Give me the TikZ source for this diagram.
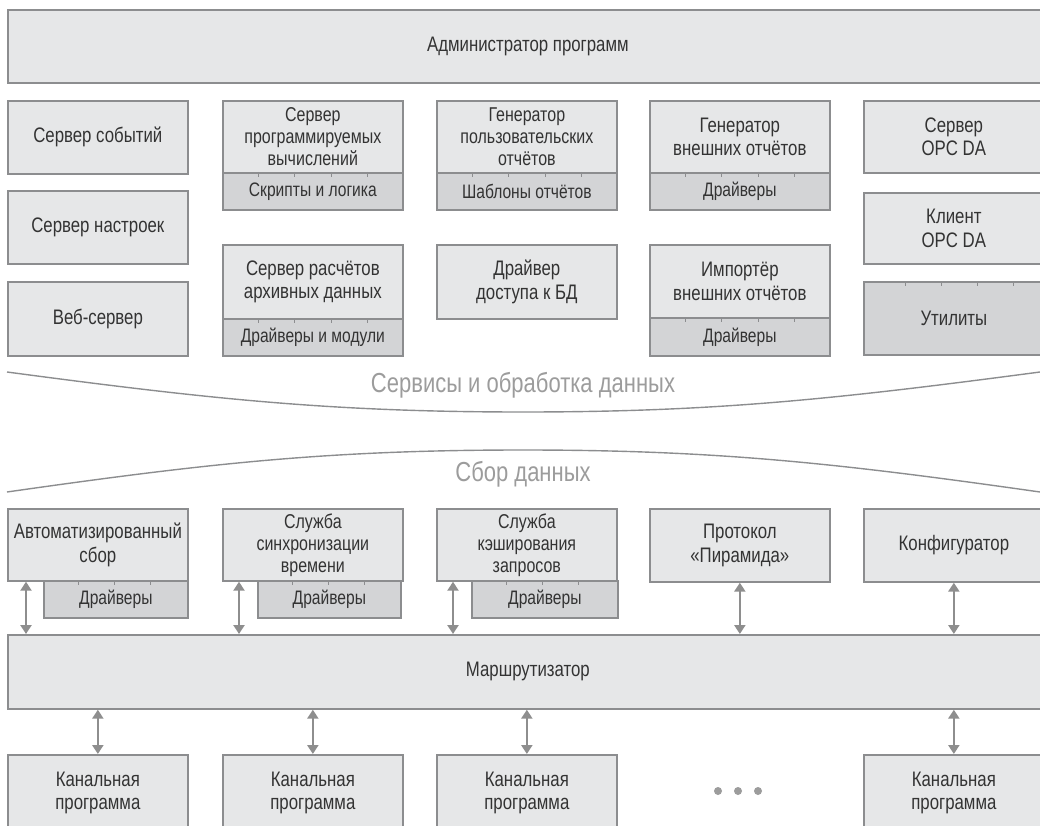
\documentclass[tikz,border=0pt]{standalone}
\usepackage{fontspec}
\setmainfont{Liberation Sans}[FakeStretch=0.8]
\usetikzlibrary{arrows.meta,calc}

\definecolor{boxfill}{HTML}{E6E7E8}
\definecolor{subfill}{HTML}{D3D4D6}
\definecolor{bord}{HTML}{8C8D8F}
\definecolor{txt}{HTML}{333333}
\definecolor{lbl}{HTML}{9C9C9C}
\definecolor{arrc}{HTML}{8E8E8E}

\begin{document}
\begin{tikzpicture}[x=1pt,y=-1pt,
  box/.style={draw=bord, fill=boxfill, line width=1.7pt, text=txt, align=center,
    inner sep=0pt, anchor=north west, minimum width=180pt,
    font=\fontsize{21}{23.5}\selectfont},
  smallbox/.style={box, font=\fontsize{20}{22}\selectfont},
  subbox/.style={box, fill=subfill, font=\fontsize{19.5}{22}\selectfont},
  tick/.style={draw=bord, line width=1pt},
  link/.style={draw=arrc, line width=2.5pt, {Triangle[width=11pt,length=9pt]}-{Triangle[width=11pt,length=9pt]}},
  layer/.style={draw=bord, line width=1.4pt},
  layertext/.style={text=lbl, font=\fontsize{27.5}{30}\selectfont},
  dot/.style={fill=lbl, draw=none, circle, minimum size=8pt, inner sep=0pt}
]
\useasboundingbox (0,0) rectangle (1040,826);
\clip (0,0) rectangle (1040,826);

% ---------- administration ----------
\node[box, minimum width=1040pt, minimum height=73pt] (admin) at (7,9) {Администратор программ};

% ---------- services: left column ----------
\node[box, minimum height=73pt] (events) at (7,100) {Сервер событий};
\node[box, minimum height=73pt] (setup)  at (7,190) {Сервер настроек};
\node[box, minimum height=74pt] (web)    at (7,281) {Веб-сервер};

% ---------- services: boxes with plug-in strips ----------
\node[smallbox, minimum height=72pt] (prog) at (222,100) {Сервер\\программируемых\\вычислений};
\node[subbox, minimum height=37pt] (progsub) at (222,172) {Скрипты и логика};

\node[smallbox, minimum height=72pt] (ugen) at (436,100) {Генератор\\пользовательских\\отчётов};
\node[subbox, minimum height=37pt] (ugensub) at (436,172) {Шаблоны отчётов};

\node[box, minimum height=72pt] (xgen) at (649,100) {Генератор\\внешних отчётов};
\node[subbox, minimum height=37pt] (xgensub) at (649,172) {Драйверы};

\node[box, minimum height=74pt] (arch) at (222,244) {Сервер расчётов\\архивных данных};
\node[subbox, minimum height=37pt] (archsub) at (222,318) {Драйверы и модули};

\node[box, minimum height=74pt] (db) at (436,244) {Драйвер\\доступа к БД};

\node[box, minimum height=73pt] (imp) at (649,244) {Импортёр\\внешних отчётов};
\node[subbox, minimum height=38pt] (impsub) at (649,317) {Драйверы};

% ---------- services: right column ----------
\node[box, minimum height=72pt] (opcs) at (863,100) {Сервер\\OPC DA};
\node[box, minimum height=71pt] (opcc) at (863,192) {Клиент\\OPC DA};
\node[box, fill=subfill, minimum height=73pt] (util) at (863,281) {Утилиты};

% ticks on the plug-in strips
\foreach \s in {progsub,ugensub,xgensub,archsub,impsub}
  \foreach \k in {1,2,3,4}
    \draw[tick] ($(\s.north west)!\k/5!(\s.north east)$) -- ++(0,5);
\foreach \d in {42,78,114,150}
  \draw[tick] ([xshift=\d pt]util.north west) -- ++(0,5);

% ---------- layer separators ----------
\draw[layer] (7,372) .. controls (210,399) and (330,412) .. (523,412)
                     .. controls (716,412) and (836,399) .. (1040,372);
\node[layertext] (svc) at (523,385) {Сервисы и обработка данных};

\draw[layer] (7,492) .. controls (210,463) and (330,450) .. (523,450)
                     .. controls (716,450) and (836,463) .. (1040,492);
\node[layertext] (coll) at (523,474) {Сбор данных};

% ---------- data collection ----------
\node[box, minimum height=72pt] (auto) at (7,508) {Автоматизированный\\сбор};
\node[subbox, minimum width=144pt, minimum height=37pt] (autosub) at (43,580) {Драйверы};

\node[smallbox, minimum height=72pt] (sync) at (222,508) {Служба\\синхронизации\\времени};
\node[subbox, minimum width=143pt, minimum height=37pt] (syncsub) at (257,580) {Драйверы};

\node[smallbox, minimum height=72pt] (cache) at (436,508) {Служба\\кэширования\\запросов};
\node[subbox, minimum width=146pt, minimum height=37pt] (cachesub) at (471,580) {Драйверы};

\node[box, minimum height=73pt] (pyr)  at (649,508) {Протокол\\«Пирамида»};
\node[box, minimum height=73pt] (conf) at (863,508) {Конфигуратор};

\foreach \s in {autosub,syncsub,cachesub}
  \foreach \k in {1,2,3}
    \draw[tick] ([xshift=\k*35.7pt]\s.north west) -- ++(0,5);

% ---------- router ----------
\node[box, minimum width=1040pt, minimum height=74pt] (router) at (7,634) {Маршрутизатор};

% ---------- channel programs ----------
\node[box, minimum height=76pt] (ch1) at (7,754)   {Канальная\\программа};
\node[box, minimum height=76pt] (ch2) at (222,754) {Канальная\\программа};
\node[box, minimum height=76pt] (ch3) at (436,754) {Канальная\\программа};
\node[box, minimum height=76pt] (ch5) at (863,754) {Канальная\\программа};

\node[dot] (d1) at (718,791) {};
\node[dot] (d2) at (738,791) {};
\node[dot] (d3) at (758,791) {};

% ---------- links to the router ----------
\draw[link] ([xshift=19pt]auto.south west)  -- ([xshift=19pt]auto.south west  |- router.north);
\draw[link] ([xshift=17pt]sync.south west)  -- ([xshift=17pt]sync.south west  |- router.north);
\draw[link] ([xshift=17pt]cache.south west) -- ([xshift=17pt]cache.south west |- router.north);
\draw[link] (pyr.south)  -- (pyr.south  |- router.north);
\draw[link] (conf.south) -- (conf.south |- router.north);

\draw[link] (ch1.north) -- (ch1.north |- router.south);
\draw[link] (ch2.north) -- (ch2.north |- router.south);
\draw[link] (ch3.north) -- (ch3.north |- router.south);
\draw[link] (ch5.north) -- (ch5.north |- router.south);
\end{tikzpicture}
\end{document}
